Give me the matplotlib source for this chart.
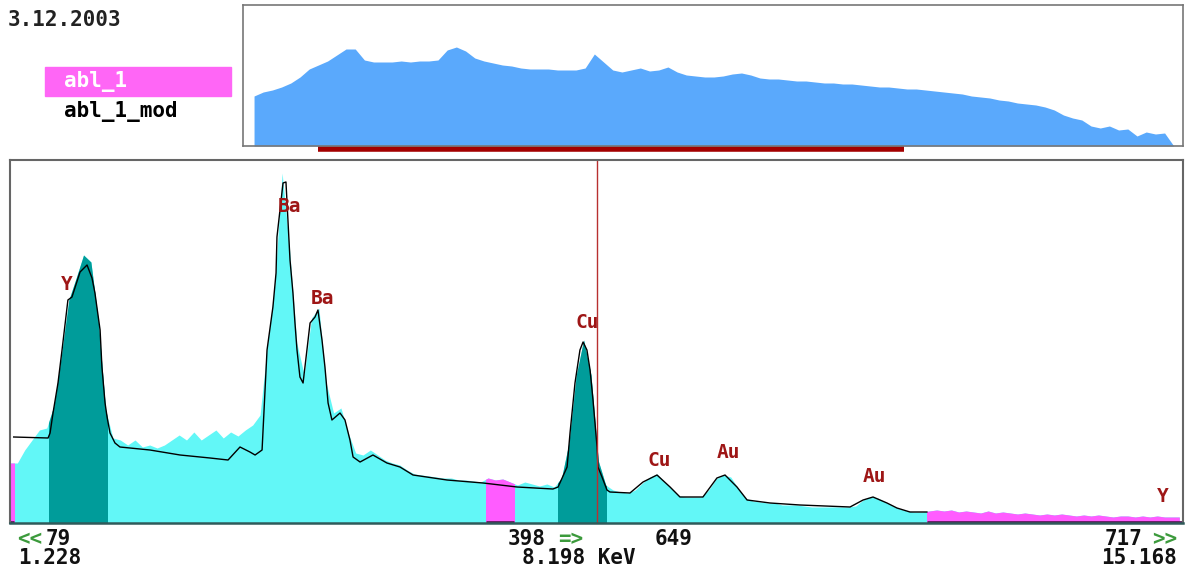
# -*- coding: utf-8 -*-

import numpy as np
import matplotlib
matplotlib.use('Agg')
import matplotlib.pyplot as plt
from matplotlib.patches import Rectangle

# overview spectrum abl_1, one value every 10 channels
top_ch = np.arange(10, 1011, 10)
top_counts = [50, 54, 56, 59, 63, 69, 77, 81, 85, 91,
              97, 97, 86, 84, 84, 84, 85, 84, 85, 85,
              86, 96, 99, 95, 88, 85, 83, 81, 80, 78,
              77, 77, 77, 76, 76, 76, 78, 92, 84, 76,
              74, 76, 78, 75, 76, 79, 74, 71, 70, 69,
              69, 70, 72, 73, 71, 68, 67, 67, 66, 65,
              65, 64, 63, 63, 62, 62, 61, 60, 59, 59,
              58, 57, 57, 56, 55, 54, 53, 52, 50, 49,
              48, 46, 45, 43, 42, 41, 39, 36, 31, 28,
              26, 20, 18, 20, 16, 17, 10, 14, 12, 13,
              0]

# zoomed window 79..717, one value every 4 channels
view_lo, view_hi = 79, 717
main_ch = np.arange(79, 716, 4)
main_counts = [60, 60, 73, 83, 93, 95, 118, 168, 223, 245,
               268, 261, 203, 113, 85, 83, 78, 83, 76, 78,
               75, 78, 83, 88, 83, 91, 83, 88, 93, 85,
               91, 87, 93, 98, 108, 178, 238, 350, 275, 180,
               148, 205, 215, 140, 110, 115, 90, 70, 68, 73,
               68, 63, 60, 58, 53, 49, 48, 47, 46, 45,
               45, 43, 43, 42, 41, 45, 43, 44, 41, 38,
               41, 39, 37, 39, 36, 45, 80, 148, 183, 148,
               62, 38, 33, 31, 30, 33, 40, 46, 49, 41,
               34, 27, 26, 26, 26, 33, 44, 48, 46, 35,
               25, 22, 21, 20, 20, 18, 18, 18, 17, 16,
               16, 16, 16, 16, 16, 17, 23, 26, 25, 21,
               17, 14, 12, 11, 11, 12, 13, 12, 13, 11,
               12, 11, 10, 12, 10, 11, 10, 9, 10, 9,
               8, 9, 8, 9, 8, 7, 8, 7, 8, 7,
               6, 7, 7, 6, 7, 6, 7, 6, 6, 6]

# abl_1_mod (fitted curve)
fit_ch = [81, 99.7, 100.8, 102.4, 105.1, 107.3, 110.5, 112.7, 117.1, 120.9,
          123.6, 125.2, 128.0, 129.0, 130.7, 131.8, 133.4, 136.1, 138.8, 155.1,
          171.5, 187.8, 197.6, 204.1, 209.5, 212.3, 216.1, 218.8, 222.0, 223.7,
          224.2, 227.5, 229.1, 231.3, 232.9, 234.0, 235.1, 236.7, 238.4, 240.5,
          242.2, 244.9, 246.5, 248.7, 250.3, 252.0, 254.1, 258.5, 261.2, 263.9,
          265.6, 269.4, 276.4, 284.0, 291.1, 298.2, 316.7, 336.3, 354.8, 374.3,
          377.1, 382.0, 383.6, 386.3, 389.0, 390.7, 392.8, 394.5, 396.1, 398.3,
          398.8, 401.0, 403.7, 405.3, 416.2, 423.3, 430.9, 438.0, 443.4, 455.9,
          463.5, 467.9, 474.4, 479.9, 492.4, 508.7, 535.9, 543.0, 548.4, 556.0,
          561.4, 568.5, 577.7]
fit_counts = [86, 85, 90, 110, 140, 173, 223, 226, 251, 258,
              245, 230, 193, 156, 120, 106, 90, 80, 76, 73,
              68, 65, 63, 76, 71, 68, 73, 173, 216, 250,
              286, 340, 341, 263, 230, 200, 173, 146, 140, 173,
              200, 206, 213, 183, 156, 120, 103, 110, 103, 83,
              66, 61, 68, 60, 56, 48, 43, 40, 36, 34,
              36, 56, 90, 140, 173, 181, 173, 153, 123, 76,
              56, 46, 33, 31, 30, 41, 48, 36, 26, 26,
              45, 48, 36, 23, 20, 18, 16, 23, 26, 20,
              15, 11, 11]

roi_teal = [(100, 132), (377, 403)]
roi_pink = [(79, 81), (338, 353), (578, 717)]

peak_names = ['Y', 'Ba', 'Ba', 'Cu', 'Cu', 'Au', 'Au', 'Y']
peak_ch = [110, 231, 249, 393, 432, 470, 549, 706]
peak_h = [238, 317, 225, 201, 63, 71, 46, 26]

cursor_ch = 398
cursor_val = 649
cursor_kev = '8.198'
lo_kev, hi_kev = '1.228', '15.168'
date = '3.12.2003'
names = ['abl_1', 'abl_1_mod']

CYAN = '#62f7f7'
TEAL = '#009c9a'
PINK = '#ff5cff'
BLUE = '#5aa9fc'
DARKRED = '#9e1616'
GREEN = '#3c9a3c'
MONO = 'DejaVu Sans Mono'

W, H = 1189, 571
fig = plt.figure(figsize=(W / 100, H / 100), dpi=100)
fig.patch.set_facecolor('white')


def fx(px):
    return px / W


def fy(py):
    return 1 - py / H


# main window
ax = fig.add_axes([fx(10), fy(523), fx(1183) - fx(10), fy(160) - fy(523)])
ax.set_xlim(view_lo, view_hi)
ax.set_ylim(0, 363)
ax.fill_between(main_ch, main_counts, color=CYAN, lw=0)
for rois, col in ((roi_teal, TEAL), (roi_pink, PINK)):
    for lo, hi in rois:
        poly = ax.fill_between(main_ch, main_counts, color=col, lw=0)
        poly.set_clip_path(Rectangle((lo, 0), hi - lo, 400, transform=ax.transData))
for lo, hi in roi_pink:
    ax.plot([lo, hi], [1, 1], color='#5a1a5a', lw=2, solid_capstyle='butt')
ax.plot(fit_ch, fit_counts, color='black', lw=1.0)
ax.axvline(cursor_ch, color='#b83030', lw=1)
for name, c, h in zip(peak_names, peak_ch, peak_h):
    ax.text(c, h, name, ha='center', va='center', color=DARKRED,
            fontsize=14, fontweight='bold', family=MONO)
ax.set_xticks([])
ax.set_yticks([])
for s in ['left', 'right', 'top']:
    ax.spines[s].set_color('#666666')
    ax.spines[s].set_linewidth(1.5)
ax.spines['bottom'].set_color('#2f5a5a')
ax.spines['bottom'].set_linewidth(1.8)

# overview strip
ax2 = fig.add_axes([fx(243), fy(146), fx(1183) - fx(243), fy(5) - fy(146)])
ax2.set_xlim(-2, 1020)
ax2.set_ylim(0, 141)
ax2.fill_between(top_ch, top_counts, color=BLUE, lw=0)
ax2.plot([view_lo, view_hi], [-2.5, -2.5], color='#a30000', lw=4,
         solid_capstyle='butt', clip_on=False)
ax2.set_xticks([])
ax2.set_yticks([])
for s in ax2.spines.values():
    s.set_color('#777777')
    s.set_linewidth(1.2)

# texts
kw = dict(fontsize=15, fontweight='bold', family=MONO, va='center')
fig.text(fx(8), fy(20), date, color='#222222', **kw)
fig.patches.append(Rectangle((fx(45), fy(96)), fx(231) - fx(45), fy(67) - fy(96),
                             transform=fig.transFigure, color='#ff66f6', zorder=0))
fig.text(fx(64), fy(82), names[0], color='white', **kw)
fig.text(fx(64), fy(111), names[1], color='black', **kw)

fig.text(fx(17), fy(539), '<<', color=GREEN, **kw)
fig.text(fx(46), fy(539), str(view_lo), color='#111111', **kw)
fig.text(fx(18), fy(558), lo_kev, color='#111111', **kw)
fig.text(fx(508), fy(539), str(cursor_ch), color='#111111', **kw)
fig.text(fx(558), fy(539), '=>', color=GREEN, **kw)
fig.text(fx(655), fy(539), str(cursor_val), color='#111111', **kw)
fig.text(fx(522), fy(558), cursor_kev + ' KeV', color='#111111', **kw)
fig.text(fx(1105), fy(539), str(view_hi), color='#111111', **kw)
fig.text(fx(1152), fy(539), '>>', color=GREEN, **kw)
fig.text(fx(1177), fy(558), hi_kev, color='#111111', ha='right',
         fontsize=15, fontweight='bold', family=MONO, va='center')

fig.savefig('out.png', dpi=100)
